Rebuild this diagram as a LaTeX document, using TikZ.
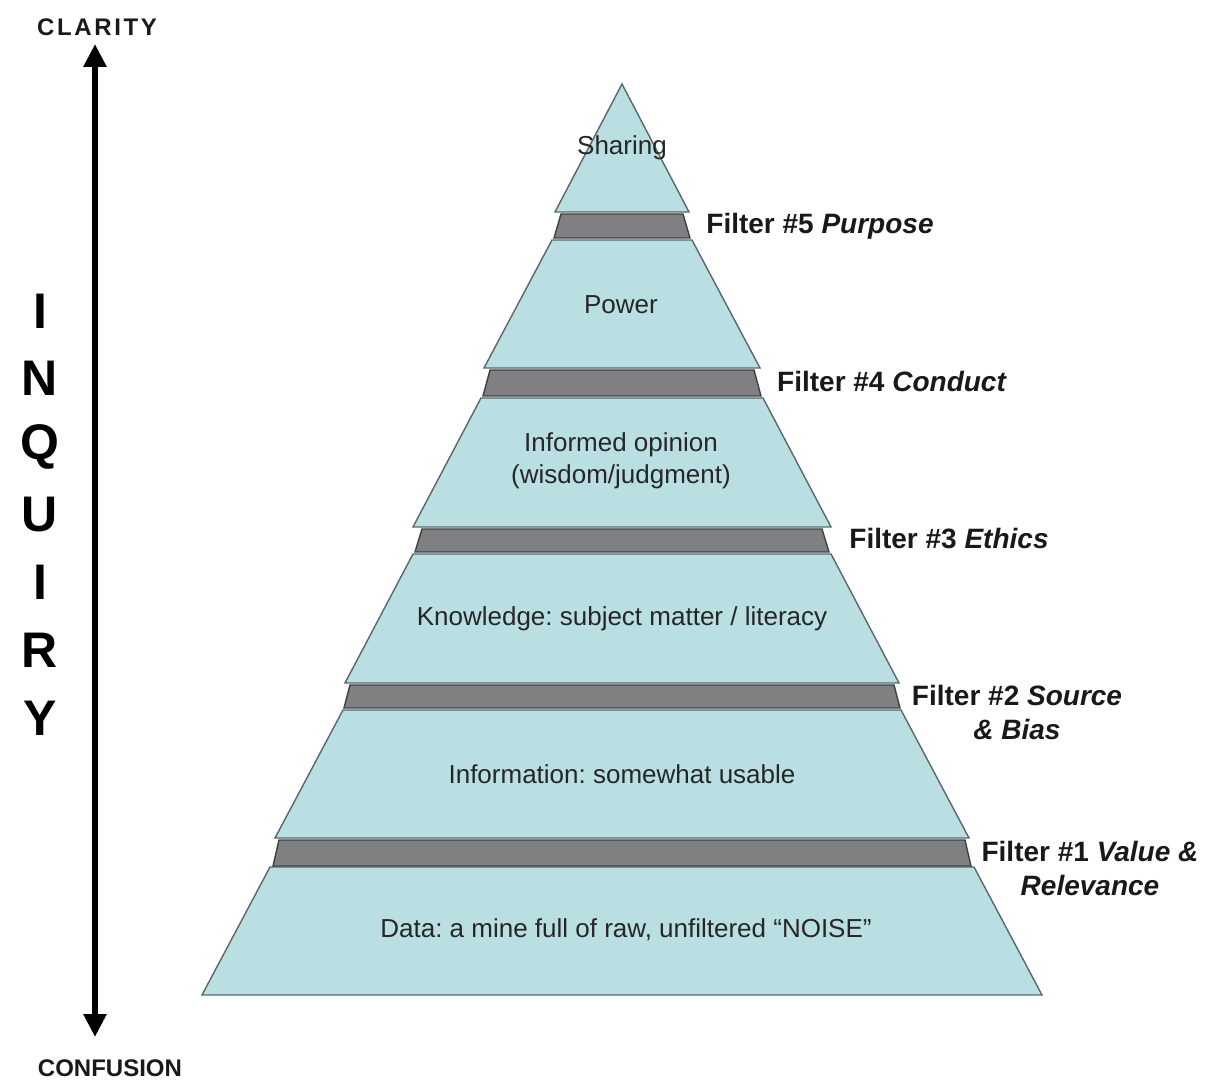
\documentclass[tikz,border=0pt]{standalone}
\usepackage{fontspec}
\setmainfont{Liberation Sans}
\usetikzlibrary{arrows.meta}
\frenchspacing

\definecolor{layerfill}{RGB}{186,223,227}
\definecolor{layerline}{RGB}{88,104,106}
\definecolor{filterfill}{RGB}{128,128,130}
\definecolor{filterline}{RGB}{58,66,68}

\tikzset{
  layer/.style={fill=layerfill, draw=layerline, line width=0.7pt},
  filterband/.style={fill=filterfill, draw=filterline, line width=0.7pt},
  layertext/.style={font=\fontsize{13}{16}\selectfont, text=black!85, align=center},
  filtertext/.style={font=\fontsize{14}{17}\selectfont\bfseries, text=black!90, align=center},
  endtext/.style={font=\fontsize{12}{14}\selectfont\bfseries, text=black!90},
  inquiryletter/.style={font=\fontsize{25}{30}\selectfont\bfseries},
}

\begin{document}
\begin{tikzpicture}[x=0.5pt,y=-0.5pt]
  \useasboundingbox (0,0) rectangle (1206,1080);
  % pyramid layers (bottom y / top y / bottom half width / top half width)
  \foreach \yb/\yt/\wb/\wt in {995/867/420/352, 838/710/347/279, 683/554/277/209,
                               527/398/209/141, 368/240/138/70, 212/84/67/0}
    \draw[layer] ({622-\wb},\yb) -- ({622+\wb},\yb) -- ({622+\wt},\yt) -- ({622-\wt},\yt) -- cycle;
  % filter bands between the layers
  \foreach \yb/\yt/\wb/\wt in {866/840/349/343, 708/685/278/272, 552/529/207/200,
                               396/370/139/132, 238/214/68/61}
    \draw[filterband] ({622-\wb},\yb) -- ({622+\wb},\yb) -- ({622+\wt},\yt) -- ({622-\wt},\yt) -- cycle;

  \node[layertext] (sharing)   at (622,148) {Sharing};
  \node[layertext] (power)     at (621,305) {Power};
  \node[layertext] (opinion)   at (621,461) {Informed opinion\\(wisdom/judgment)};
  \node[layertext] (knowledge) at (622,619) {Knowledge: subject matter / literacy};
  \node[layertext] (info)      at (622,774) {Information: somewhat usable};
  \node[layertext] (data)      at (626,930) {Data: a mine full of raw, unfiltered “NOISE”};

  \node[filtertext] (filter5) at (820,226)  {Filter \#5 \textit{Purpose}};
  \node[filtertext] (filter4) at (892,382)  {Filter \#4 \textit{Conduct}};
  \node[filtertext] (filter3) at (949,539)  {Filter \#3 \textit{Ethics}};
  \node[filtertext] (filter2) at (1017,712) {Filter \#2 \textit{Source}\\\textit{\& Bias}};
  \node[filtertext] (filter1) at (1090,868) {Filter \#1 \textit{Value \&}\\\textit{Relevance}};

  % inquiry axis
  \node[endtext] (clarity)   at (97,27)    {\addfontfeatures{LetterSpace=11}CLARITY};
  \node[endtext] (confusion) at (110,1068) {CONFUSION};
  \coordinate (claritytip)   at (95,44);
  \coordinate (confusiontip) at (95,1037);
  \draw[line width=3pt,{Triangle[width=11pt,length=11.5pt]}-{Triangle[width=11pt,length=11.5pt]}]
    (confusiontip) -- (claritytip);
  \foreach \ch [count=\i] in {I,N,Q,U,I,R,Y}
    \node[inquiryletter] (inquiry\i) at (40,{311+67.8*(\i-1)}) {\ch};
\end{tikzpicture}
\end{document}
